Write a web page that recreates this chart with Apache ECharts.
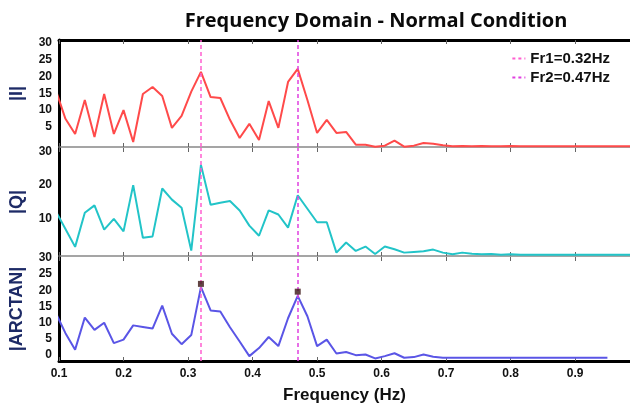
<!DOCTYPE html>
<html><head><meta charset="utf-8">
<script src="https://cdn.jsdelivr.net/npm/echarts@6/dist/echarts.min.js"></script>
<style>html,body{margin:0;padding:0;background:#fff}#c{width:630px;height:405px}</style>
</head><body><div id="c"></div>
<script>
const freqs = [0.095,0.11,0.125,0.14,0.155,0.17,0.185,0.2,0.215,0.23,0.245,0.26,0.275,0.29,0.305,0.32,0.335,0.35,0.365,0.38,0.395,0.41,0.425,0.44,0.455,0.47,0.485,0.5,0.515,0.53,0.545,0.56,0.575,0.59,0.605,0.62,0.635,0.65,0.665,0.68,0.695,0.71,0.725,0.74,0.755,0.77,0.785,0.8,0.815,0.83,0.845,0.86,0.875,0.89,0.905,0.92,0.935,0.95,0.965,0.98,0.995];
const valuesI = [16,7.4,2.9,13,2,14.8,2.9,10,0.5,14.8,16.9,14.2,4.7,8.3,15.5,21.4,13.9,13.6,7.1,1.7,5.9,1.1,12.7,4.7,18.4,22.3,13,3.2,7.1,3.2,3.5,-0.3,-0.3,-0.9,-0.6,0.9,-0.9,-0.6,0.2,0,-0.5,-0.8,-0.7,-0.8,-0.7,-0.8,-0.8,-0.7,-0.8,-0.8,-0.8,-0.8,-0.8,-0.8,-0.8,-0.8,-0.8,-0.8,-0.8,-0.8,-0.8];
const valuesQ = [12.3,7,1.7,11.8,14,6.8,10,6.3,20,4.4,4.8,19,15.7,13.3,0.6,26,14.2,14.8,15.3,12.5,8,5,12.5,11.3,7.4,17,13,9,9,0,3,0.5,1.8,-0.4,1.8,1,0,0.2,0.4,0.9,0,-0.5,0,-0.3,-0.5,-0.4,-0.6,-0.5,-0.6,-0.6,-0.6,-0.6,-0.6,-0.6,-0.6,-0.6,-0.6,-0.6,-0.6,-0.6,-0.6];
const valuesArctan = [13,6.8,1.7,11.6,7.8,10,3.7,4.8,9.2,8.7,8.2,15.3,6.6,3.4,6.2,21,13.8,13.5,8.6,4.2,-0.3,2.2,5.6,2.8,11.4,18.3,12,2.8,4.8,0.5,1,0,0.2,-1,-0.3,0.6,-0.8,-0.6,0.2,-0.5,-0.8,-0.8,-0.8,-0.8,-0.8,-0.8,-0.8,-0.8,-0.8,-0.8,-0.8,-0.8,-0.8,-0.8,-0.8,-0.8,-0.8,-0.8];
const peakFreqs = [0.32, 0.47];
const peakArctan = [22, 19.6];
const resonances = [{name:'Fr1=0.32Hz', f:0.32, color:'#ff5fd0'}, {name:'Fr2=0.47Hz', f:0.47, color:'#e040e0'}];
const panelNames = ['|I|','|Q|','|ARCTAN|'];
const yTicksI = [5,10,15,20,25,30];
const yTicksQ = [10,20,30];
const yTicksA = [0,5,10,15,20,25,30];
const xTicks = [0.1,0.2,0.3,0.4,0.5,0.6,0.7,0.8,0.9];

const chart = echarts.init(document.getElementById('c'), null, {renderer:'canvas'});
const pairs = (vals) => vals.map((v,i)=>[freqs[i], v]);
const XMIN = 0.1, XMAX = 0.985;
const tickFont = {fontFamily:'Liberation Sans', fontWeight:'bold', fontSize:12, color:'#111'};

function xAx(grid, pos, lineColor, lineWidth, showLabel, name) {
  return {
    type:'value', gridIndex:grid, position:pos, min:XMIN, max:XMAX, interval:0.1,
    axisLine:{show:true, onZero:false, lineStyle:{color:lineColor, width:lineWidth}},
    axisTick:{show:true, inside:true, length:4, lineStyle:{color:'#666', width:1}, customValues:xTicks},
    axisLabel:Object.assign({show:showLabel, margin:7, customValues:xTicks, formatter:(v)=>v.toFixed(1)}, tickFont),
    splitLine:{show:false},
    name: name || '', nameLocation:'middle', nameGap:26,
    nameTextStyle:{fontFamily:'Liberation Sans', fontWeight:'bold', fontSize:17, color:'#111'}
  };
}
function yAx(grid, min, max, ticks, name, gap) {
  return {
    type:'value', gridIndex:grid, min:min, max:max,
    axisLine:{show:true, onZero:false, lineStyle:{color:'#000', width:3}},
    axisTick:{show:false},
    axisLabel:Object.assign({show:true, margin:7, customValues:ticks}, tickFont),
    splitLine:{show:false},
    name:name, nameLocation:'middle', nameRotate:90, nameGap:gap,
    nameTextStyle:{fontFamily:'Liberation Sans', fontWeight:'bold', fontSize:18, color:'#1d2a66',
      textShadowColor:'#e8882a', textShadowOffsetX:1, textShadowOffsetY:1, textShadowBlur:0}
  };
}

const series = [];
const lineColors = ['#ff4a4a', '#22c4c8', '#5a55e6'];
[valuesI, valuesQ, valuesArctan].forEach((vals, k) => {
  series.push({type:'line', xAxisIndex:k*2, yAxisIndex:k, data:pairs(vals), symbol:'none',
    lineStyle:{color:lineColors[k], width:2}, clip:true, silent:true, z:3});
  resonances.forEach(r => {
    series.push({type:'line', name:r.name, xAxisIndex:k*2, yAxisIndex:k, data:[], symbol:'none',
      color:r.color, lineStyle:{color:r.color, type:[3,3], width:1.5},
      markLine:{silent:true, symbol:['none','none'], label:{show:false},
        lineStyle:{color:r.color, type:[4,3], width:1.5}, data:[{xAxis:r.f}]}, z:4});
  });
});
series.push({type:'scatter', xAxisIndex:4, yAxisIndex:2, data:peakFreqs.map((f,i)=>[f, peakArctan[i]]),
  symbol:'rect', symbolSize:6, itemStyle:{color:'#3a1414'}, z:6, silent:true});

chart.setOption({
  animation:false,
  backgroundColor:'#fff',
  title:{text:'Frequency Domain - Normal Condition', left:371, textAlign:'center', top:6,
    textStyle:{fontFamily:'Open Sans', fontWeight:'bold', fontSize:20, color:'#0a0a0a'}},
  legend:{data:resonances.map(r=>r.name), orient:'vertical', right:15, top:46, itemGap:4,
    itemWidth:13, itemHeight:14,
    itemStyle:{color:'rgba(0,0,0,0)', borderWidth:0, opacity:0},
    textStyle:{fontFamily:'Liberation Sans', fontWeight:'bold', fontSize:15, color:'#111'}},
  grid:[
    {left:59, right:0, top:40, height:107},
    {left:59, right:0, top:148, height:108},
    {left:59, right:0, top:257, height:108}
  ],
  xAxis:[
    xAx(0,'bottom','#888',1.5,false),
    xAx(0,'top','#000',3,false),
    xAx(1,'bottom','#888',1.5,false),
    xAx(1,'top','#888',0,false),
    xAx(2,'bottom','#000',3,true,'Frequency (Hz)'),
    xAx(2,'top','#888',0,false)
  ],
  yAxis:[
    yAx(0,-1,30.9,yTicksI,panelNames[0],33),
    yAx(1,-1,31,yTicksQ,panelNames[1],33),
    yAx(2,-1.8,30.3,yTicksA,panelNames[2],33)
  ],
  series:series
});
</script></body></html>
